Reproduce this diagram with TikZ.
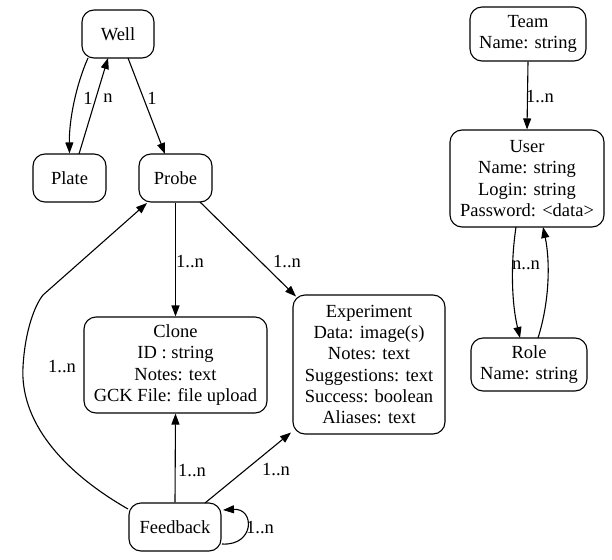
\documentclass[tikz,border=0pt]{standalone}
\usepackage{fontspec}
\setmainfont{Liberation Serif}
\usetikzlibrary{arrows.meta,calc}
\begin{document}
\begin{tikzpicture}[x=1pt,y=-1pt,
  ent/.style={draw,rounded corners=12pt,line width=1.1pt,align=center,inner sep=0pt,
    font=\fontsize{18.5}{21.3}\selectfont},
  lbl/.style={inner sep=0pt,font=\fontsize{18.5}{21.3}\selectfont},
  conn/.style={line width=1.1pt,-{Triangle[length=11pt,width=8pt]}}]
\useasboundingbox (0,0) rectangle (612,559);
% nodes
\node[ent,minimum width=72pt,minimum height=48pt] (well) at (118,34) {Well};
\node[ent,minimum width=73pt,minimum height=48pt] (plate) at (69.5,178) {Plate};
\node[ent,minimum width=73pt,minimum height=48pt] (probe) at (175.5,178) {Probe};
\node[ent,minimum width=183pt,minimum height=96pt] (clone) at (175.5,365) {Clone\\ID : string\\Notes: text\\GCK File: file upload};
\node[ent,minimum width=152pt,minimum height=139pt] (exp) at (369,364.5) {Experiment\\Data: image(s)\\Notes: text\\Suggestions: text\\Success: boolean\\Aliases: text};
\node[ent,minimum width=92pt,minimum height=48pt] (fb) at (175,527) {Feedback};
\node[ent,minimum width=116pt,minimum height=54pt] (team) at (528,34) {Team\\Name: string};
\node[ent,minimum width=154pt,minimum height=97pt] (user) at (527,178.5) {User\\Name: string\\Login: string\\Password: <data>};
\node[ent,minimum width=116pt,minimum height=53pt] (role) at (529,364.5) {Role\\Name: string};
% connectors
\draw[conn] ($(well.center)+(-30,24)$) .. controls (76,85) and (69,120) .. (plate.north);
\draw[conn] ($(plate.center)+(9.5,-24)$) -- ($(well.center)+(-10,24)$);
\draw[conn] ($(well.center)+(10,24)$) -- ($(probe.center)+(-10.5,-24)$);
\draw[conn] (probe.south) -- (clone.north);
\draw[conn] ($(probe.center)+(24.5,24)$) -- ($(exp.center)+(-73,-68)$);
\draw[conn] (fb.north) -- (clone.south);
\draw[conn] ($(fb.center)+(30,-24)$) -- ($(exp.center)+(-78,68)$);
\draw[conn] ($(fb.center)+(-47,-18)$) .. controls (60,470) and (20,420) .. (23,367)
   .. controls (25,330) and (35,305) .. (43,295) -- ($(probe.center)+(-28.5,25)$);
\draw[conn] ($(fb.center)+(47,17)$) .. controls (255,546) and (255,508) .. ($(fb.center)+(48,-17)$);
\draw[conn] (team.south) -- (user.north);
\draw[conn] ($(user.center)+(-11,48.5)$) .. controls (511,260) and (511,300) .. ($(role.center)+(-9,-26.5)$);
\draw[conn] ($(role.center)+(9,-26.5)$) .. controls (550,300) and (550,260) .. ($(user.center)+(16,48.5)$);
% labels
\node[lbl] (l1) at (88,98) {1};
\node[lbl] (l2) at (108,98) {n};
\node[lbl] (l3) at (152,98) {1};
\node[lbl] (l4) at (190,262) {1..n};
\node[lbl] (l5) at (287,262) {1..n};
\node[lbl] (l6) at (62,367) {1..n};
\node[lbl] (l7) at (192,471) {1..n};
\node[lbl] (l8) at (276,470) {1..n};
\node[lbl] (l9) at (260,528) {1..n};
\node[lbl] (l10) at (540,97) {1..n};
\node[lbl] (l11) at (526,265) {n..n};
\end{tikzpicture}
\end{document}
